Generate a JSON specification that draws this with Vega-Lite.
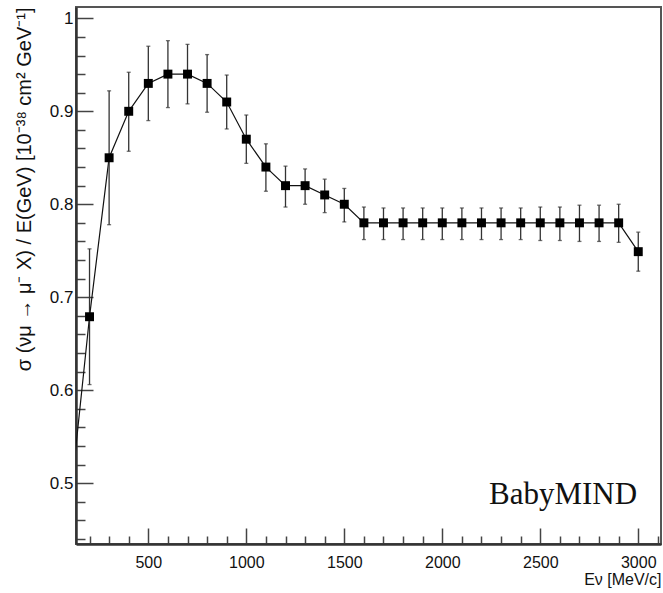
{
  "$schema": "https://vega.github.io/schema/vega-lite/v6.json",
  "width": 585,
  "height": 537,
  "autosize": {"type": "none"},
  "padding": {"left": 76, "top": 7, "right": 2, "bottom": 49},
  "background": "white",
  "config": {
    "view": {"stroke": "#555", "strokeWidth": 2},
    "font": "Liberation Sans"
  },
  "data": {
    "values": [
      {"e": 100, "s": 0.478, "lo": null, "hi": null},
      {"e": 200, "s": 0.679, "lo": 0.606, "hi": 0.752},
      {"e": 300, "s": 0.85, "lo": 0.778, "hi": 0.922},
      {"e": 400, "s": 0.9, "lo": 0.857, "hi": 0.942},
      {"e": 500, "s": 0.93, "lo": 0.89, "hi": 0.97},
      {"e": 600, "s": 0.94, "lo": 0.904, "hi": 0.976},
      {"e": 700, "s": 0.94, "lo": 0.908, "hi": 0.972},
      {"e": 800, "s": 0.93, "lo": 0.899, "hi": 0.961},
      {"e": 900, "s": 0.91, "lo": 0.881, "hi": 0.939},
      {"e": 1000, "s": 0.87, "lo": 0.844, "hi": 0.896},
      {"e": 1100, "s": 0.84, "lo": 0.814, "hi": 0.865},
      {"e": 1200, "s": 0.82, "lo": 0.797, "hi": 0.841},
      {"e": 1300, "s": 0.82, "lo": 0.8, "hi": 0.838},
      {"e": 1400, "s": 0.81, "lo": 0.791, "hi": 0.827},
      {"e": 1500, "s": 0.8, "lo": 0.781, "hi": 0.817},
      {"e": 1600, "s": 0.78, "lo": 0.762, "hi": 0.797},
      {"e": 1700, "s": 0.78, "lo": 0.762, "hi": 0.796},
      {"e": 1800, "s": 0.78, "lo": 0.762, "hi": 0.796},
      {"e": 1900, "s": 0.78, "lo": 0.762, "hi": 0.796},
      {"e": 2000, "s": 0.78, "lo": 0.762, "hi": 0.796},
      {"e": 2100, "s": 0.78, "lo": 0.762, "hi": 0.796},
      {"e": 2200, "s": 0.78, "lo": 0.762, "hi": 0.796},
      {"e": 2300, "s": 0.78, "lo": 0.762, "hi": 0.796},
      {"e": 2400, "s": 0.78, "lo": 0.762, "hi": 0.796},
      {"e": 2500, "s": 0.78, "lo": 0.761, "hi": 0.797},
      {"e": 2600, "s": 0.78, "lo": 0.761, "hi": 0.797},
      {"e": 2700, "s": 0.78, "lo": 0.76, "hi": 0.799},
      {"e": 2800, "s": 0.78, "lo": 0.76, "hi": 0.799},
      {"e": 2900, "s": 0.78, "lo": 0.759, "hi": 0.8},
      {"e": 3000, "s": 0.749, "lo": 0.728, "hi": 0.77}
    ]
  },
  "encoding": {
    "x": {
      "field": "e",
      "type": "quantitative",
      "scale": {"domain": [131, 3116], "nice": false, "zero": false},
      "axis": {
        "title": "Eν [MeV/c]",
        "titleAnchor": "end",
        "titleAlign": "right",
        "titleFont": "Liberation Sans",
        "titleFontSize": 16,
        "titleFontWeight": "normal",
        "titleColor": "#111",
        "titlePadding": -7,
        "values": [200, 300, 400, 500, 600, 700, 800, 900, 1000, 1100, 1200, 1300, 1400, 1500, 1600, 1700, 1800, 1900, 2000, 2100, 2200, 2300, 2400, 2500, 2600, 2700, 2800, 2900, 3000, 3100],
        "labelExpr": "datum.value % 500 === 0 ? format(datum.value, 'd') : ''",
        "labelFont": "Liberation Sans",
        "labelFontSize": 16,
        "labelColor": "#111",
        "labelPadding": 26,
        "labelOverlap": false,
        "labelFlush": false,
        "grid": false,
        "domainColor": "#333",
        "domainWidth": 2.5,
        "tickColor": "#444",
        "tickWidth": 1.5,
        "tickSize": {"condition": {"test": "datum.value % 500 === 0", "value": -16}, "value": -8}
      }
    },
    "y": {
      "type": "quantitative",
      "scale": {"domain": [0.4345, 1.0122], "nice": false, "zero": false},
      "axis": {
        "title": "σ (νμ → μ⁻ X) / E(GeV) [10⁻³⁸ cm² GeV⁻¹]",
        "titleAnchor": "end",
        "titleFont": "Liberation Sans",
        "titleFontSize": 20,
        "titleFontWeight": "normal",
        "titleColor": "#111",
        "titlePadding": 15,
        "values": [0.44, 0.46, 0.48, 0.5, 0.52, 0.54, 0.56, 0.58, 0.6, 0.62, 0.64, 0.66, 0.68, 0.7, 0.72, 0.74, 0.76, 0.78, 0.8, 0.82, 0.84, 0.86, 0.88, 0.9, 0.92, 0.94, 0.96, 0.98, 1],
        "labelExpr": "abs(datum.value * 10 - round(datum.value * 10)) < 0.001 ? format(datum.value, '') : ''",
        "labelFont": "Liberation Sans",
        "labelFontSize": 17,
        "labelColor": "#111",
        "labelPadding": 20,
        "labelOverlap": false,
        "grid": false,
        "domainColor": "#333",
        "domainWidth": 2.5,
        "tickColor": "#444",
        "tickWidth": 1.5,
        "tickSize": {"condition": {"test": "abs(datum.value * 10 - round(datum.value * 10)) < 0.001", "value": -17}, "value": -9}
      }
    }
  },
  "layer": [
    {
      "mark": {"type": "line", "color": "#111", "strokeWidth": 1.2, "clip": true},
      "encoding": {"y": {"field": "s", "type": "quantitative"}}
    },
    {
      "transform": [{"filter": "datum.lo != null"}],
      "mark": {"type": "rule", "color": "#333", "strokeWidth": 1.3, "clip": true},
      "encoding": {"y": {"field": "lo", "type": "quantitative"}, "y2": {"field": "hi"}}
    },
    {
      "transform": [{"filter": "datum.lo != null"}],
      "mark": {"type": "tick", "orient": "horizontal", "color": "#333", "size": 4, "thickness": 1.3, "clip": true},
      "encoding": {"y": {"field": "lo", "type": "quantitative"}}
    },
    {
      "transform": [{"filter": "datum.lo != null"}],
      "mark": {"type": "tick", "orient": "horizontal", "color": "#333", "size": 4, "thickness": 1.3, "clip": true},
      "encoding": {"y": {"field": "hi", "type": "quantitative"}}
    },
    {
      "transform": [{"filter": "datum.lo != null"}],
      "mark": {"type": "point", "shape": "square", "filled": true, "color": "black", "opacity": 1, "size": 80, "clip": true},
      "encoding": {"y": {"field": "s", "type": "quantitative"}}
    },
    {
      "data": {"values": [{"e": 2994, "s": 0.477, "label": "BabyMIND"}]},
      "mark": {"type": "text", "align": "right", "baseline": "alphabetic", "font": "Liberation Serif", "fontSize": 31, "color": "#111"},
      "encoding": {"y": {"field": "s", "type": "quantitative"}, "text": {"field": "label"}}
    }
  ]
}
